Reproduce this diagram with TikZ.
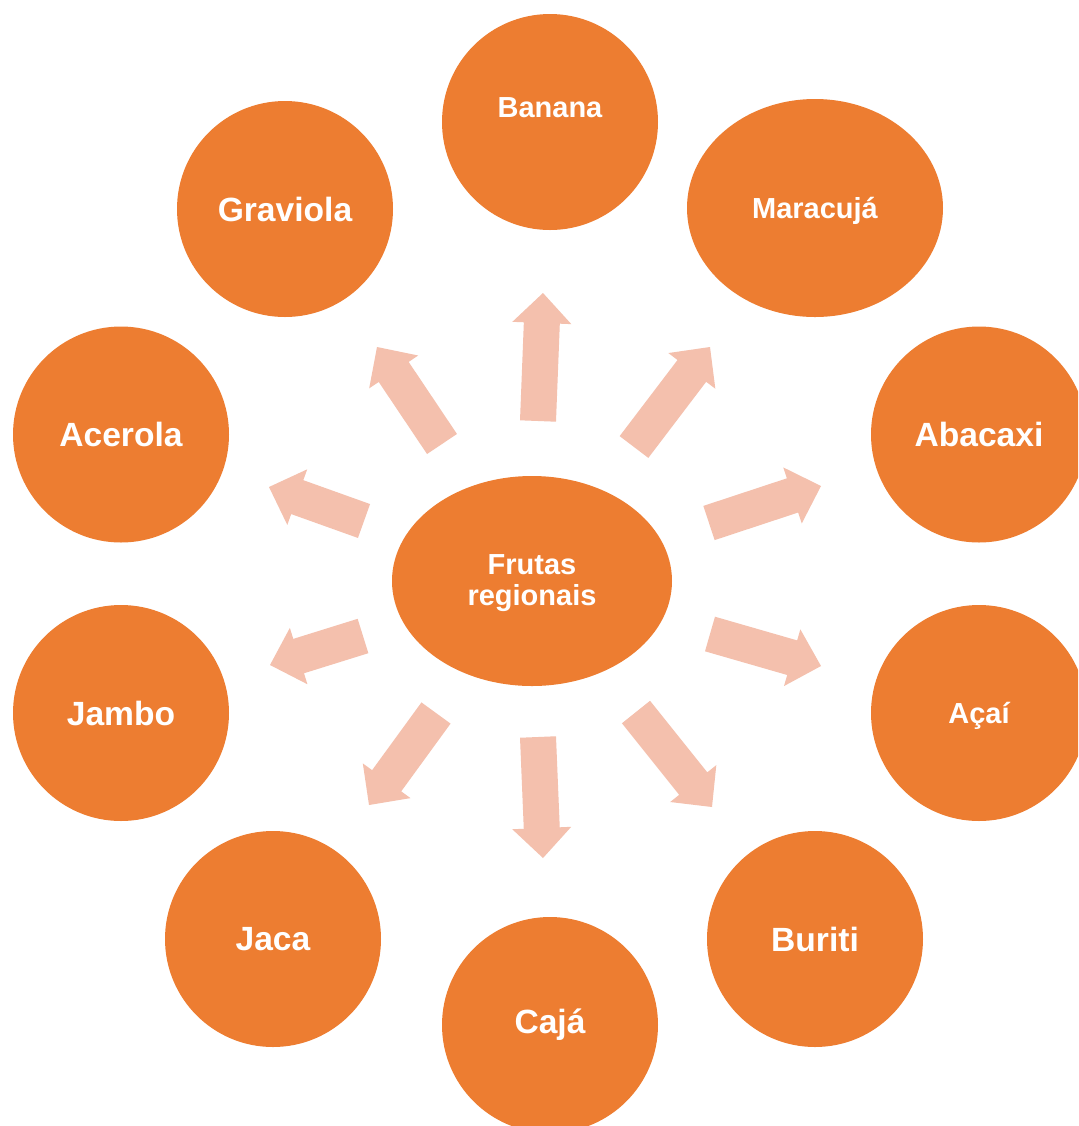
\documentclass[tikz,border=0pt]{standalone}
\usepackage{fontspec}
\setmainfont{Liberation Sans}
\usetikzlibrary{calc,shapes.geometric}
\definecolor{fruitorange}{HTML}{ED7D31}
\definecolor{arrowpink}{HTML}{F4C0AD}
\tikzset{
  fruitbig/.style={circle, fill=fruitorange, draw=none, minimum size=108pt, inner sep=0pt,
    text=white, align=center, font=\bfseries\fontsize{16.8}{19}\selectfont},
  fruitsmall/.style={fruitbig, font=\bfseries\fontsize{14.5}{15.5}\selectfont},
  fruitoval/.style={ellipse, fill=fruitorange, draw=none, inner sep=0pt,
    text=white, align=center, font=\bfseries\fontsize{14.5}{15.5}\selectfont},
  labeltext/.style={text=white, font=\bfseries\fontsize{14.5}{15.5}\selectfont},
  blockarrow/.style={fill=arrowpink, draw=none},
}
\newcommand\blockarr[2]{%
  \coordinate (#1-h) at ($(#2)!15pt!(#1)$);
  \fill[blockarrow] ($(#1)!9pt!90:(#2)$) -- ($(#1-h)!9pt!90:(#2)$) --
    ($(#1-h)!14.75pt!90:(#2)$) -- (#2) -- ($(#1-h)!14.75pt!-90:(#2)$) --
    ($(#1-h)!9pt!-90:(#2)$) -- ($(#1)!9pt!-90:(#2)$) -- cycle;
}
\begin{document}
\begin{tikzpicture}[x=0.5pt, y=-0.5pt]
  \clip (0,0) rectangle (1078,1126);
  \fill[white] (0,0) rectangle (1078,1126);

  % hub
  \node[fruitoval, minimum width=140pt, minimum height=105pt,
        label={[labeltext, align=center, yshift=-1.2pt]center:Frutas\\regionais}] (hub) at (532,581) {};

  % fruits
  \node[fruitsmall, label={[labeltext, yshift=7pt]center:Banana}] (banana) at (550,122) {};
  \node[fruitoval, minimum width=128pt, minimum height=109pt,
        label={[labeltext, yshift=-1.6pt]center:Maracujá}] (maracuja) at (815,208) {};
  \node[fruitbig] (abacaxi) at (979,434.5) {Abacaxi};
  \node[fruitsmall, label={[labeltext, yshift=-1.6pt]center:Açaí}] (acai) at (979,713) {};
  \node[fruitbig] (buriti) at (815,939) {Buriti};
  \node[fruitbig] (caja) at (550,1025) {Cajá};
  \node[fruitbig] (jaca) at (273,939) {Jaca};
  \node[fruitbig] (jambo) at (121,713) {Jambo};
  \node[fruitbig] (acerola) at (121,434.5) {Acerola};
  \node[fruitbig] (graviola) at (285,209) {Graviola};

  % arrow tails and tips
  \coordinate (tBan) at (538,421);  \coordinate (pBan) at (543,293);
  \coordinate (tMar) at (634,447);  \coordinate (pMar) at (710,347);
  \coordinate (tAba) at (709,523);  \coordinate (pAba) at (821,486);
  \coordinate (tAca) at (710,634);  \coordinate (pAca) at (821,666);
  \coordinate (tBur) at (636,712);  \coordinate (pBur) at (712,807);
  \coordinate (tCaj) at (538,737);  \coordinate (pCaj) at (543,858);
  \coordinate (tJac) at (436,713);  \coordinate (pJac) at (369,805);
  \coordinate (tJam) at (363,636);  \coordinate (pJam) at (270,665);
  \coordinate (tAce) at (364,521);  \coordinate (pAce) at (269,487);
  \coordinate (tGra) at (442,444);  \coordinate (pGra) at (377,347);

  \blockarr{tBan}{pBan}
  \blockarr{tMar}{pMar}
  \blockarr{tAba}{pAba}
  \blockarr{tAca}{pAca}
  \blockarr{tBur}{pBur}
  \blockarr{tCaj}{pCaj}
  \blockarr{tJac}{pJac}
  \blockarr{tJam}{pJam}
  \blockarr{tAce}{pAce}
  \blockarr{tGra}{pGra}
\end{tikzpicture}
\end{document}
